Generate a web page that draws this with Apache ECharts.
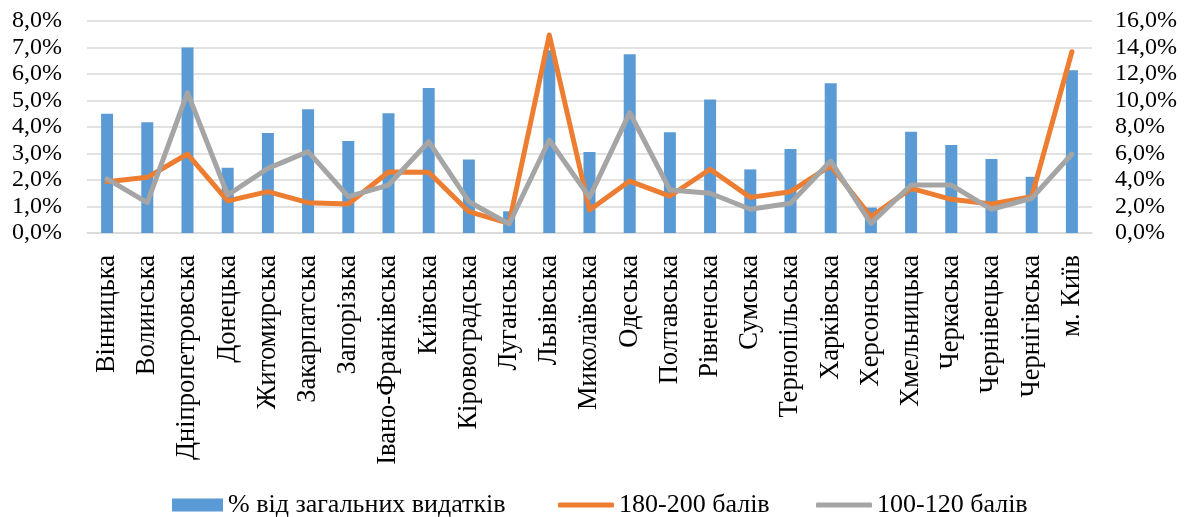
<!DOCTYPE html>
<html>
<head>
<meta charset="utf-8">
<script src="https://cdn.jsdelivr.net/npm/echarts@6/dist/echarts.min.js"></script>
<style>
html,body{margin:0;padding:0;background:#fff;}
#chart{width:1184px;height:517px;}
</style>
</head>
<body>
<div id="chart"></div>
<script>
const categories = ['Вінницька','Волинська','Дніпропетровська','Донецька','Житомирська','Закарпатська','Запорізька','Івано-Франківська','Київська','Кіровоградська','Луганська','Львівська','Миколаївська','Одеська','Полтавська','Рівненська','Сумська','Тернопільська','Харківська','Херсонська','Хмельницька','Черкаська','Чернівецька','Чернігівська','м. Київ'];
const seriesNames = ['% від загальних видатків','180-200 балів','100-120 балів'];
// left axis, %
const shareOfSpending = [4.50,4.18,7.00,2.46,3.77,4.67,3.47,4.52,5.47,2.77,0.82,6.90,3.06,6.75,3.80,5.04,2.40,3.17,5.65,0.96,3.82,3.32,2.79,2.12,6.14];
// right axis, %
const score180_200 = [3.87,4.20,5.96,2.42,3.12,2.29,2.19,4.60,4.58,1.61,0.73,14.94,1.74,3.92,2.79,4.81,2.69,3.12,5.08,1.23,3.37,2.54,2.19,2.74,13.68];
const score100_120 = [4.08,2.29,10.59,2.87,4.88,6.14,2.74,3.62,6.89,2.36,0.68,7.02,2.69,9.08,3.25,3.00,1.79,2.24,5.43,0.73,3.62,3.62,1.79,2.62,5.96];

const fmt = v => v.toFixed(1).replace('.', ',') + '%';
const FONT = 'Liberation Serif';
const COLORS = ['#5B9BD5','#ED7D31','#A5A5A5'];
const legendText = {fontFamily:FONT,fontSize:26,color:'#000'};
const chart = echarts.init(document.getElementById('chart'), null, {renderer:'canvas'});
chart.setOption({
  animation:false,
  backgroundColor:'#fff',
  textStyle:{fontFamily:FONT},
  grid:{left:87,right:92,top:21,bottom:284,containLabel:false},
  legend:[
    {top:492,left:172,padding:0,itemWidth:51,itemHeight:13,textStyle:legendText,
     data:[{name:seriesNames[0],icon:'rect'}]},
    {top:492,left:558,padding:0,itemWidth:56,itemHeight:5,textStyle:legendText,
     data:[{name:seriesNames[1],icon:'roundRect'}]},
    {top:492,left:816,padding:0,itemWidth:56,itemHeight:5,textStyle:legendText,
     data:[{name:seriesNames[2],icon:'roundRect'}]}
  ],
  xAxis:{
    type:'category',data:categories,
    axisLine:{lineStyle:{color:'#D9D9D9',width:1.5}},
    axisTick:{show:false},
    axisLabel:{rotate:90,interval:0,margin:22,fontFamily:FONT,fontSize:26.5,color:'#000'}
  },
  yAxis:[
    {type:'value',min:0,max:8,interval:1,
     axisLabel:{formatter:fmt,fontFamily:FONT,fontSize:24,color:'#000',margin:25},
     splitLine:{lineStyle:{color:'#D9D9D9',width:1.5}},
     axisLine:{show:false},axisTick:{show:false}},
    {type:'value',min:0,max:16,interval:2,
     axisLabel:{formatter:fmt,fontFamily:FONT,fontSize:24,color:'#000',margin:23},
     splitLine:{show:false},
     axisLine:{show:false},axisTick:{show:false}}
  ],
  series:[
    {name:seriesNames[0],type:'bar',data:shareOfSpending,yAxisIndex:0,barWidth:12,
     itemStyle:{color:COLORS[0]}},
    {name:seriesNames[1],type:'line',data:score180_200,yAxisIndex:1,symbol:'none',
     lineStyle:{color:COLORS[1],width:5,join:'round',cap:'round'},itemStyle:{color:COLORS[1]}},
    {name:seriesNames[2],type:'line',data:score100_120,yAxisIndex:1,symbol:'none',
     lineStyle:{color:COLORS[2],width:5,join:'round',cap:'round'},itemStyle:{color:COLORS[2]}}
  ]
});
</script>
</body>
</html>
